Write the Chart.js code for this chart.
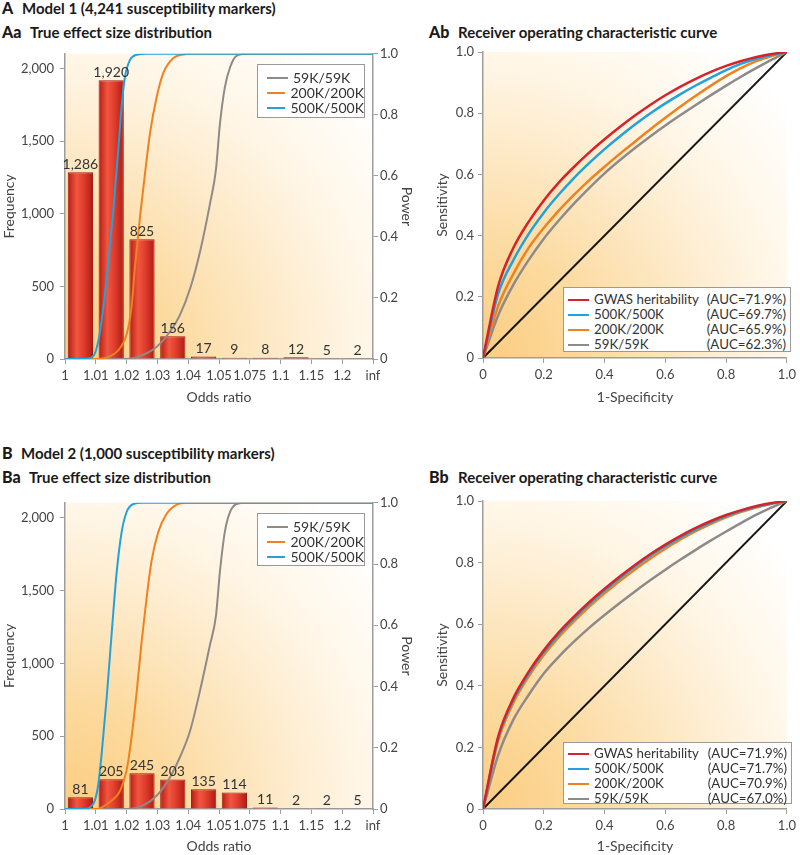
<!DOCTYPE html>
<html><head><meta charset="utf-8">
<script src="https://cdn.jsdelivr.net/npm/chart.js@4.4.1/dist/chart.umd.min.js"></script>
<style>
html,body{margin:0;padding:0;background:#fff;}
body{width:800px;height:855px;position:relative;overflow:hidden;font-family:Lato,"Open Sans",sans-serif;color:#222;}
.t{position:absolute;font-weight:bold;font-size:15px;line-height:16px;white-space:nowrap;color:#1a1a1a}
.t .k{display:inline-block;font-weight:900;font-size:16px}
canvas{position:absolute}
.leg{position:absolute;background:#fff;border:1px solid #9a9a9a;font-size:14px;color:#333;box-sizing:border-box}
.leg.roc{font-size:13.3px}
.row{display:flex;align-items:center;white-space:nowrap;height:15px;line-height:15px}
.sw{display:inline-block;width:21px;height:0;border-top:2.5px solid;margin-right:5px}
.auc{margin-left:auto}
</style></head><body>

<div class="t" style="left:2px;top:0px"><span class="k" style="width:20px">A</span>Model 1 (4,241 susceptibility markers)</div>
<div class="t" style="left:2px;top:24px"><span class="k" style="width:28px">Aa</span>True effect size distribution</div>
<div class="t" style="left:429px;top:24px"><span class="k" style="width:29px">Ab</span>Receiver operating characteristic curve</div>
<div class="t" style="left:2px;top:445px"><span class="k" style="width:19px">B</span>Model 2 (1,000 susceptibility markers)</div>
<div class="t" style="left:2px;top:469px"><span class="k" style="width:27px">Ba</span>True effect size distribution</div>
<div class="t" style="left:429px;top:469px"><span class="k" style="width:29px">Bb</span>Receiver operating characteristic curve</div>

<canvas id="cAa" width="420" height="366" style="left:0;top:40px"></canvas>
<canvas id="cAb" width="400" height="366" style="left:400px;top:40px"></canvas>
<canvas id="cBa" width="420" height="366" style="left:0;top:489px"></canvas>
<canvas id="cBb" width="400" height="366" style="left:400px;top:489px"></canvas>

<div class="leg" style="left:257px;top:64px;width:108px;height:54px;padding:5px 0 0 9px">
  <div class="row"><span class="sw" style="border-color:#8f8a88"></span>59K/59K</div>
  <div class="row"><span class="sw" style="border-color:#f0811f"></span>200K/200K</div>
  <div class="row"><span class="sw" style="border-color:#21a2dd"></span>500K/500K</div>
</div>
<div class="leg" style="left:257px;top:513px;width:108px;height:53px;padding:5px 0 0 9px">
  <div class="row"><span class="sw" style="border-color:#8f8a88"></span>59K/59K</div>
  <div class="row"><span class="sw" style="border-color:#f0811f"></span>200K/200K</div>
  <div class="row"><span class="sw" style="border-color:#21a2dd"></span>500K/500K</div>
</div>
<div class="leg roc" style="left:563px;top:287px;width:228px;height:65px;padding:4px 4px 0 4px">
  <div class="row"><span class="sw" style="border-color:#d7222a"></span>GWAS heritability<span class="auc">(AUC=71.9%)</span></div>
  <div class="row"><span class="sw" style="border-color:#21a2dd"></span>500K/500K<span class="auc">(AUC=69.7%)</span></div>
  <div class="row"><span class="sw" style="border-color:#f0811f"></span>200K/200K<span class="auc">(AUC=65.9%)</span></div>
  <div class="row"><span class="sw" style="border-color:#8f8a88"></span>59K/59K<span class="auc">(AUC=62.3%)</span></div>
</div>
<div class="leg roc" style="left:563px;top:742px;width:229px;height:62px;padding:3px 4px 0 4px">
  <div class="row"><span class="sw" style="border-color:#d7222a"></span>GWAS heritability<span class="auc">(AUC=71.9%)</span></div>
  <div class="row"><span class="sw" style="border-color:#21a2dd"></span>500K/500K<span class="auc">(AUC=71.7%)</span></div>
  <div class="row"><span class="sw" style="border-color:#f0811f"></span>200K/200K<span class="auc">(AUC=70.9%)</span></div>
  <div class="row"><span class="sw" style="border-color:#8f8a88"></span>59K/59K<span class="auc">(AUC=67.0%)</span></div>
</div>

<script>
// ---------------- DATA ----------------
const oddsRatioLabels = ['1','1.01','1.02','1.03','1.04','1.05','1.075','1.1','1.15','1.2','inf'];
const freqModel1 = [1286, 1920, 825, 156, 17, 9, 8, 12, 5, 2];
const freqModel2 = [81, 205, 245, 203, 135, 114, 11, 2, 2, 5];

// power curves: position along odds-ratio axis (in bin units) and power
const powA500x = [0, 0.6, 0.92, 1.08, 1.24, 1.41, 1.57, 1.73, 1.84, 1.95, 2.11, 2.33, 2.65, 10];
const powA500y = [0, 0, 0.01, 0.058, 0.166, 0.318, 0.49, 0.687, 0.83, 0.926, 0.98, 0.997, 1, 1];
const powA200x = [0, 1.0, 1.46, 1.79, 2.0, 2.16, 2.27, 2.44, 2.6, 2.76, 2.98, 3.19, 3.52, 3.84, 4.1, 10];
const powA200y = [0, 0, 0.009, 0.036, 0.08, 0.17, 0.3, 0.47, 0.61, 0.74, 0.86, 0.937, 0.986, 0.998, 1, 1];
const powA59x  = [0, 2.0, 2.54, 2.98, 3.41, 3.73, 4.06, 4.38, 4.71, 4.9, 5.03, 5.19, 5.36, 5.57, 5.9, 10];
const powA59y  = [0, 0, 0.014, 0.04, 0.09, 0.144, 0.23, 0.35, 0.51, 0.62, 0.77, 0.89, 0.956, 0.993, 1, 1];

const powB500x = [0, 0.6, 0.81, 0.97, 1.08, 1.19, 1.35, 1.52, 1.68, 1.84, 2.0, 2.22, 2.5, 10];
const powB500y = [0, 0, 0.006, 0.028, 0.08, 0.18, 0.36, 0.58, 0.775, 0.905, 0.97, 0.996, 1, 1];
const powB200x = [0, 1.0, 1.46, 1.79, 2.0, 2.16, 2.33, 2.49, 2.65, 2.81, 3.03, 3.3, 3.63, 3.95, 10];
const powB200y = [0, 0, 0.023, 0.06, 0.126, 0.234, 0.385, 0.548, 0.69, 0.81, 0.905, 0.964, 0.994, 1, 1];
const powB59x  = [0, 2.0, 2.54, 2.98, 3.41, 3.73, 4.06, 4.38, 4.71, 4.9, 5.03, 5.19, 5.36, 5.57, 5.9, 10];
const powB59y  = [0, 0, 0.012, 0.044, 0.104, 0.169, 0.255, 0.385, 0.537, 0.63, 0.775, 0.905, 0.97, 0.996, 1, 1];

// ROC curves: 1-specificity and sensitivity
const rocFpr = [0, 0.05, 0.1, 0.15, 0.2, 0.25, 0.3, 0.35, 0.4, 0.45, 0.5, 0.55, 0.6, 0.65, 0.7, 0.75, 0.8, 0.85, 0.9, 0.95, 1];
const rocA_gwas = [0, 0.235, 0.36, 0.445, 0.515, 0.574, 0.625, 0.672, 0.715, 0.755, 0.7925, 0.827, 0.8585, 0.887, 0.9125, 0.935, 0.9545, 0.9705, 0.9835, 0.9935, 1];
const rocA_500  = [0, 0.21, 0.32, 0.405, 0.475, 0.535, 0.589, 0.6375, 0.6825, 0.724, 0.763, 0.799, 0.832, 0.8625, 0.8905, 0.9165, 0.941, 0.962, 0.978, 0.9905, 1];
const rocA_200  = [0, 0.17, 0.275, 0.36, 0.425, 0.4825, 0.534, 0.5815, 0.625, 0.667, 0.707, 0.747, 0.785, 0.822, 0.857, 0.89, 0.921, 0.948, 0.97, 0.987, 1];
const rocA_59   = [0, 0.14, 0.24, 0.32, 0.39, 0.45, 0.505, 0.556, 0.6035, 0.646, 0.686, 0.724, 0.76, 0.794, 0.827, 0.859, 0.89, 0.92, 0.948, 0.975, 1];
const rocB_gwas = [0, 0.235, 0.36, 0.445, 0.515, 0.574, 0.625, 0.672, 0.715, 0.755, 0.7925, 0.827, 0.8585, 0.887, 0.9125, 0.935, 0.9545, 0.9705, 0.9835, 0.9935, 1];
const rocB_500  = [0, 0.23, 0.354, 0.439, 0.509, 0.568, 0.619, 0.666, 0.709, 0.749, 0.787, 0.822, 0.853, 0.882, 0.908, 0.931, 0.951, 0.968, 0.981, 0.992, 1];
const rocB_200  = [0, 0.222, 0.345, 0.43, 0.5, 0.559, 0.61, 0.657, 0.7, 0.74, 0.778, 0.813, 0.845, 0.875, 0.902, 0.926, 0.947, 0.965, 0.979, 0.991, 1];
const rocB_59   = [0, 0.175, 0.29, 0.37, 0.44, 0.495, 0.544, 0.589, 0.63, 0.669, 0.7065, 0.7425, 0.777, 0.81, 0.8415, 0.872, 0.901, 0.929, 0.9555, 0.9795, 1];
const diagX = [0, 1];
const diagY = [0, 1];

// ---------------- STYLE ----------------
const C_BLUE = '#21a2dd', C_ORANGE = '#f0811f', C_GRAY = '#8f8a88', C_RED = '#d7222a', C_BLACK = '#151515';
const AXIS = '#9d9d9d';
const TICKFONT = {family: 'Lato', size: 13};
const TITLEFONT = {family: 'Lato', size: 14, lineHeight: 1.2};
const BAR_PCT = 0.82;

const pts = (xs, ys) => xs.map((x, i) => ({x: x, y: ys[i]}));
const fmtNum = v => String(v).replace(/\B(?=(\d{3})+(?!\d))/g, ',');

const bgGrad = {
  id: 'bgGrad',
  beforeDraw(chart) {
    const {ctx, chartArea: a} = chart;
    if (!a) return;
    const w = a.right - a.left, h = a.bottom - a.top;
    const r = Math.hypot(w, h);
    const g = ctx.createRadialGradient(a.left, a.bottom, 0, a.left, a.bottom, r * 0.92);
    g.addColorStop(0, '#fbcd82');
    g.addColorStop(0.25, '#fcd99c');
    g.addColorStop(0.5, '#fde8c4');
    g.addColorStop(0.72, '#fff5e4');
    g.addColorStop(1, '#ffffff');
    ctx.save();
    ctx.fillStyle = g;
    ctx.fillRect(a.left, a.top, w, h);
    ctx.restore();
  }
};

const barLabels = {
  id: 'barLabels',
  afterDatasetsDraw(chart) {
    const meta = chart.getDatasetMeta(0);
    const ds = chart.data.datasets[0];
    const ctx = chart.ctx;
    ctx.save();
    ctx.font = '14px Lato';
    ctx.fillStyle = '#333';
    ctx.textAlign = 'center';
    ctx.textBaseline = 'bottom';
    meta.data.forEach((el, i) => {
      ctx.fillText(fmtNum(ds.data[i].y), el.x, el.y - 1);
    });
    ctx.restore();
  }
};

function barFill(c) {
  const chart = c.chart;
  const xs = chart.scales && chart.scales.x;
  if (!chart.chartArea || !c.raw || !xs) return '#d9362b';
  const cx = xs.getPixelForValue(c.raw.x);
  const hw = (xs.getPixelForValue(1) - xs.getPixelForValue(0)) * BAR_PCT / 2;
  const g = chart.ctx.createLinearGradient(cx - hw, 0, cx + hw, 0);
  g.addColorStop(0, '#b71b13');
  g.addColorStop(0.35, '#f05640');
  g.addColorStop(0.6, '#e2402f');
  g.addColorStop(1, '#b01a12');
  return g;
}

function tickGrid() {
  return {display: true, drawOnChartArea: false, drawTicks: true, tickLength: 5, color: AXIS, lineWidth: 1};
}

function distChart(id, freq, p59, p200, p500, xAxisH) {
  return new Chart(document.getElementById(id), {
    type: 'bar',
    data: {
      datasets: [
        {type: 'bar', data: freq.map((v, i) => ({x: i + 0.5, y: v})), yAxisID: 'y', order: 10,
         backgroundColor: barFill, borderColor: '#9e1c14', borderWidth: 1,
         barPercentage: BAR_PCT, categoryPercentage: 1},
        {type: 'line', data: pts(p59[0], p59[1]), yAxisID: 'y1', order: 3, borderColor: C_GRAY, borderWidth: 2,
         pointRadius: 0, cubicInterpolationMode: 'monotone', fill: false},
        {type: 'line', data: pts(p200[0], p200[1]), yAxisID: 'y1', order: 2, borderColor: C_ORANGE, borderWidth: 2,
         pointRadius: 0, cubicInterpolationMode: 'monotone', fill: false},
        {type: 'line', data: pts(p500[0], p500[1]), yAxisID: 'y1', order: 1, borderColor: C_BLUE, borderWidth: 2,
         pointRadius: 0, cubicInterpolationMode: 'monotone', fill: false}
      ]
    },
    options: {
      animation: false, responsive: false, devicePixelRatio: 1,
      layout: {padding: {top: 12, left: 0, right: 0, bottom: 0}},
      plugins: {legend: {display: false}, tooltip: {enabled: false}},
      scales: {
        x: {type: 'linear', min: 0, max: 10, offset: false, position: 'bottom',
            grid: Object.assign(tickGrid(), {offset: false}),
            border: {color: AXIS, width: 1.5},
            afterBuildTicks: s => { s.ticks = oddsRatioLabels.map((_, i) => ({value: i})); },
            ticks: {autoSkip: false, maxRotation: 0, minRotation: 0, padding: 4, color: '#444', font: TICKFONT,
                    callback: v => oddsRatioLabels[Math.round(v)]},
            afterFit: s => { s.height = xAxisH; },
            title: {display: true, text: 'Odds ratio', font: TITLEFONT, color: '#444', padding: {top: 0, bottom: 0.5}}},
        y: {type: 'linear', position: 'left', min: 0, max: 2103,
            grid: tickGrid(), border: {color: AXIS, width: 1.5},
            afterBuildTicks: s => { s.ticks = [0, 500, 1000, 1500, 2000].map(v => ({value: v})); },
            ticks: {padding: 6, color: '#444', font: TICKFONT, callback: v => fmtNum(v)},
            afterFit: s => { s.width = 65; },
            title: {display: true, text: 'Frequency', font: TITLEFONT, color: '#444', padding: {top: 0.6, bottom: 0}}},
        y1: {type: 'linear', position: 'right', min: 0, max: 1,
            grid: tickGrid(), border: {color: AXIS, width: 1.5},
            afterBuildTicks: s => { s.ticks = [0, 0.2, 0.4, 0.6, 0.8, 1].map(v => ({value: v})); },
            ticks: {padding: 2, color: '#444', font: TICKFONT, callback: v => v === 0 ? '0' : v.toFixed(1)},
            afterFit: s => { s.width = 47; },
            title: {display: true, text: 'Power', font: TITLEFONT, color: '#444', padding: {top: 5, bottom: 0}}}
      }
    },
    plugins: [bgGrad, barLabels]
  });
}

function rocChart(id, gwas, r500, r200, r59, xAxisH) {
  const line = (ys, color, order, w) => ({data: pts(rocFpr, ys), borderColor: color, borderWidth: w, order: order,
    pointRadius: 0, cubicInterpolationMode: 'monotone', fill: false});
  return new Chart(document.getElementById(id), {
    type: 'line',
    data: {
      datasets: [
        {data: pts(diagX, diagY), borderColor: C_BLACK, borderWidth: 2, order: 5, pointRadius: 0, fill: false},
        line(r59, C_GRAY, 4, 2.5),
        line(r200, C_ORANGE, 3, 2.5),
        line(r500, C_BLUE, 2, 2.5),
        line(gwas, C_RED, 1, 2.5)
      ]
    },
    options: {
      animation: false, responsive: false, devicePixelRatio: 1,
      layout: {padding: {top: 12, left: 0, right: 9, bottom: 0}},
      plugins: {legend: {display: false}, tooltip: {enabled: false}},
      scales: {
        x: {type: 'linear', min: 0, max: 1, position: 'bottom',
            grid: tickGrid(), border: {color: AXIS, width: 1.5},
            afterBuildTicks: s => { s.ticks = [0, 0.2, 0.4, 0.6, 0.8, 1].map(v => ({value: v})); },
            ticks: {autoSkip: false, maxRotation: 0, padding: 4, color: '#444', font: TICKFONT,
                    callback: v => v === 0 ? '0' : v.toFixed(1)},
            afterFit: s => { s.height = xAxisH; },
            title: {display: true, text: '1-Specificity', font: TITLEFONT, color: '#444', padding: {top: 0, bottom: 0.5}}},
        y: {type: 'linear', min: 0, max: 1, position: 'left',
            grid: tickGrid(), border: {color: AXIS, width: 1.5},
            afterBuildTicks: s => { s.ticks = [0, 0.2, 0.4, 0.6, 0.8, 1].map(v => ({value: v})); },
            ticks: {padding: 4, color: '#444', font: TICKFONT, callback: v => v === 0 ? '0' : v.toFixed(1)},
            afterFit: s => { s.width = 83; },
            title: {display: true, text: 'Sensitivity', font: TITLEFONT, color: '#444', padding: {top: 33.6, bottom: 0}}}
      }
    },
    plugins: [bgGrad]
  });
}

distChart('cAa', freqModel1, [powA59x, powA59y], [powA200x, powA200y], [powA500x, powA500y], 47);
rocChart('cAb', rocA_gwas, rocA_500, rocA_200, rocA_59, 48);
distChart('cBa', freqModel2, [powB59x, powB59y], [powB200x, powB200y], [powB500x, powB500y], 46);
rocChart('cBb', rocB_gwas, rocB_500, rocB_200, rocB_59, 46);
</script>
</body></html>
